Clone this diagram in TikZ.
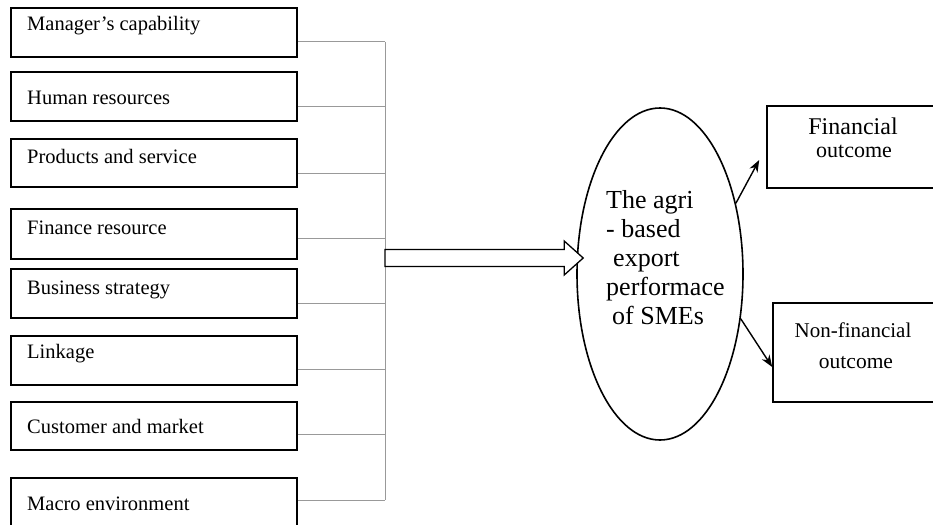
\documentclass[tikz,border=0pt]{standalone}
\usepackage{fontspec}
\setmainfont{Liberation Serif}
\usetikzlibrary{shapes.geometric,arrows.meta,calc}

\tikzset{
  factor/.style={draw,line width=1.6pt,minimum width=286pt,inner sep=0pt},
  outcome/.style={draw,line width=1.6pt,minimum width=200pt,inner sep=0pt},
  link/.style={gray!80,line width=1pt},
  flow/.style={line width=1.4pt,-{Stealth[length=12pt,width=9pt]}},
  lbl/.style={anchor=base west,inner sep=0pt,font=\fontsize{20.5}{22}\selectfont},
  olbl/.style={anchor=base,inner sep=0pt},
}

\begin{document}
\begin{tikzpicture}[x=1pt,y=-1pt]
  \useasboundingbox (0,0) rectangle (933,524);
  \clip (0,0) rectangle (933,524);
  \coordinate (bustop) at (385,42);
  \coordinate (busbot) at (385,500);

  % factors on the left
  \foreach \n/\t/\b/\by/\ly/\txt in {
      f1/8/57/31/42/{Manager's capability},
      f2/72/121/105/107/{Human resources},
      f3/139/187/163/173/{Products and service},
      f4/209/259/234/238/{Finance resource},
      f5/269/318/294/303/{Business strategy},
      f6/336/385/358/369/{Linkage},
      f7/402/450/433/434/{Customer and market},
      f8/478/545/510/500/{Macro environment}} {
    \node[factor,minimum height={(\b-\t)*1pt}] (\n) at (154,{(\t+\b)/2}) {};
    \node[lbl] (\n txt) at (27,\by) {\txt};
    \draw[link] (\n.east |- 0,\ly) -- (bustop |- 0,\ly);
  };
  \draw[link] (bustop) -- (busbot);

  % performance
  \node[ellipse,draw,line width=1.6pt,minimum width=166pt,minimum height=332pt,
    inner sep=0pt] (perf) at (660,274) {};
  \node[align=left,inner sep=0pt,anchor=north west,
    font=\fontsize{26}{29}\selectfont] (perftxt) at (606,190)
    {The agri\\- based\\\hspace{7pt}export\\performace\\\hspace{6pt}of SMEs};

  \coordinate (hin) at (385,258);
  \coordinate (tip) at ($(perf.west |- hin)+(7,0)$);
  \draw[line width=1.3pt,fill=white] ($(hin)+(0,-8.5)$) -- ($(tip)+(-19,-8.5)$)
    -- ($(tip)+(-19,-17)$) -- (tip) -- ($(tip)+(-19,17)$)
    -- ($(tip)+(-19,8.5)$) -- ($(hin)+(0,8.5)$) -- cycle;

  % outcomes
  \node[outcome,minimum height=82pt] (fin) at (867,147) {};
  \node[outcome,minimum height=99pt] (nonfin) at (873,352.5) {};
  \node[olbl,font=\fontsize{24}{24}\selectfont] (fintxt) at (853,135) {Financial};
  \node[olbl,font=\fontsize{22}{22}\selectfont] (finout) at (854,157) {outcome};
  \node[olbl,font=\fontsize{21}{21}\selectfont] (nonfintxt) at (853,337) {Non-financial};
  \node[olbl,font=\fontsize{21.5}{21.5}\selectfont] (nonfinout) at (856,368) {outcome};

  \draw[flow] (perf.43) -- ($(fin.west)+(-7,13)$);
  \draw[flow] (perf.-29) -- ($(nonfin.west)+(0,14.5)$);
\end{tikzpicture}
\end{document}
